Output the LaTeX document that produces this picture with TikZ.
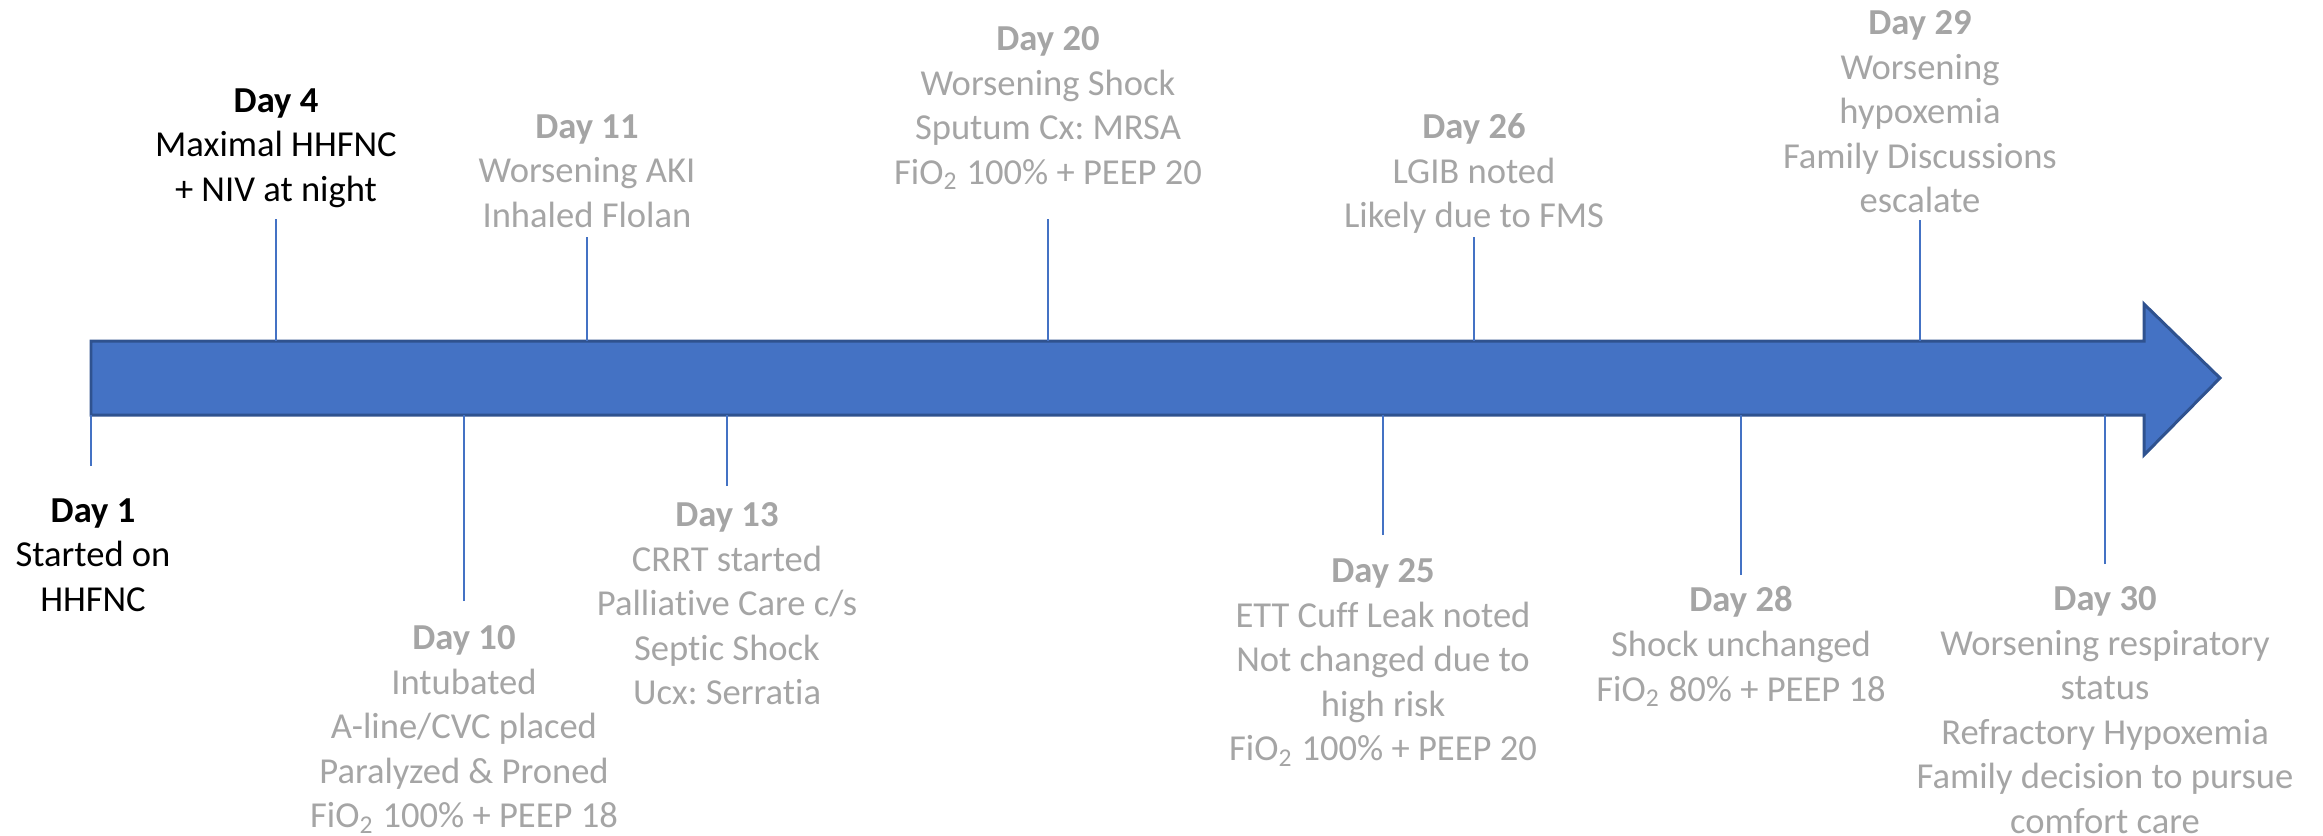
\documentclass[tikz,border=0pt]{standalone}
\usepackage{fontspec}
\setmainfont[Ligatures=NoCommon]{Carlito}
\usepackage{tikz}
\usetikzlibrary{positioning}
\definecolor{barblue}{HTML}{4472C4}
\definecolor{baredge}{HTML}{2F528F}
\definecolor{evtgray}{HTML}{A5A5A5}
\newcommand{\evtfont}{\fontsize{10.4}{12.66}\selectfont\frenchspacing}
\tikzset{
    evt/.style={align=center, font=\evtfont, text=evtgray, inner sep=0pt, anchor=north},
    evtblack/.style={evt, text=black},
    tickline/.style={draw=barblue, line width=0.45pt}
}

\begin{document}
\begin{tikzpicture}[x=0.01cm, y=-0.01cm]
    \useasboundingbox (0,0) rectangle (2323,835);
    % timeline arrow
    \draw[fill=barblue, draw=baredge, line width=0.85pt, line join=miter]
        (91,341) -- (2144,341) -- (2144,304) -- (2220,378) -- (2144,455) -- (2144,415) -- (91,415) -- cycle;
    \coordinate (bartop) at (0,341);
    \coordinate (barbot) at (0,415);

    % events above the arrow
    \node[evtblack] (day4) at (276,88) {\textbf{Day 4}\\Maximal HHFNC\\+ NIV at night};
    \node[evt] (day11) at (587,114) {\textbf{Day 11}\\Worsening AKI\\Inhaled Flolan};
    \node[evt] (day20) at (1048,26) {\textbf{Day 20}\\Worsening Shock\\Sputum Cx: MRSA\\FiO\textsubscript{2} 100\% + PEEP 20};
    \node[evt] (day26) at (1474,113) {\textbf{Day 26}\\LGIB noted\\Likely due to FMS};
    \node[evt] (day29) at (1920,10) {\textbf{Day 29}\\Worsening\\hypoxemia\\Family Discussions\\escalate};

    % events below the arrow
    \node[evtblack] (day1) at (93,498) {\textbf{Day 1}\\Started on\\HHFNC};
    \node[evt] (day10) at (464,625) {\textbf{Day 10}\\Intubated\\A-line/CVC placed\\Paralyzed \& Proned\\FiO\textsubscript{2} 100\% + PEEP 18};
    \node[evt] (day13) at (727,502) {\textbf{Day 13}\\CRRT started\\Palliative Care c/s\\Septic Shock\\Ucx: Serratia};
    \node[evt] (day25) at (1383,558) {\textbf{Day 25}\\ETT Cuff Leak noted\\Not changed due to\\high risk\\FiO\textsubscript{2} 100\% + PEEP 20};
    \node[evt] (day28) at (1741,586) {\textbf{Day 28}\\Shock unchanged\\FiO\textsubscript{2} 80\% + PEEP 18};
    \node[evt] (day30) at (2105,586) {\textbf{Day 30}\\Worsening respiratory\\status\\Refractory Hypoxemia\\Family decision to pursue\\comfort care};

    % tick ends
    \coordinate (t4) at (276,219);
    \coordinate (t11) at (587,237);
    \coordinate (t20) at (1048,219);
    \coordinate (t26) at (1474,237);
    \coordinate (t29) at (1920,220);
    \coordinate (t1) at (91,466);
    \coordinate (t10) at (464,601);
    \coordinate (t13) at (727,486);
    \coordinate (t25) at (1383,535);
    \coordinate (t28) at (1741,575);
    \coordinate (t30) at (2105,564);

    \draw[tickline] (t4) -- (t4 |- bartop);
    \draw[tickline] (t11) -- (t11 |- bartop);
    \draw[tickline] (t20) -- (t20 |- bartop);
    \draw[tickline] (t26) -- (t26 |- bartop);
    \draw[tickline] (t29) -- (t29 |- bartop);
    \draw[tickline] (t1) -- (t1 |- barbot);
    \draw[tickline] (t10) -- (t10 |- barbot);
    \draw[tickline] (t13) -- (t13 |- barbot);
    \draw[tickline] (t25) -- (t25 |- barbot);
    \draw[tickline] (t28) -- (t28 |- barbot);
    \draw[tickline] (t30) -- (t30 |- barbot);
\end{tikzpicture}
\end{document}
